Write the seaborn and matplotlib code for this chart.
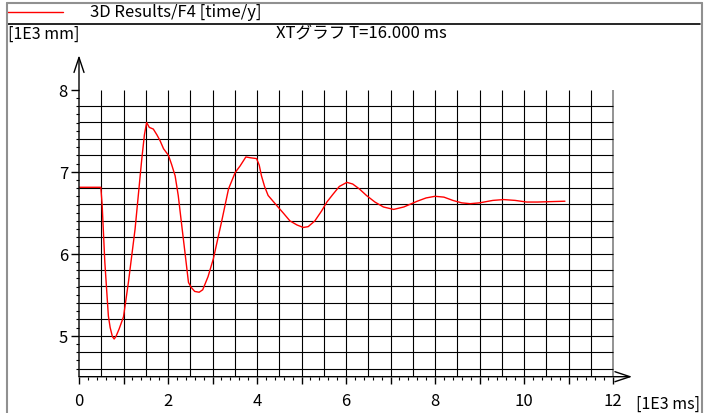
import numpy as np
import pandas as pd
import matplotlib
matplotlib.use("Agg")
import matplotlib.pyplot as plt
from matplotlib.lines import Line2D
from matplotlib.ticker import FixedLocator
import seaborn as sns

# ---- data ----
time_ks = [0, 0.49, 0.52, 0.58, 0.66, 0.70, 0.75, 0.79, 0.83, 0.90, 1.0, 1.11, 1.26, 1.41,
           1.47, 1.52, 1.58, 1.67, 1.75, 1.82, 1.90, 2.01, 2.08, 2.16, 2.23, 2.31, 2.38,
           2.46, 2.52, 2.60, 2.70, 2.78, 2.90, 3.02, 3.20, 3.36, 3.51, 3.62, 3.75, 3.85,
           3.99, 4.05, 4.10, 4.17, 4.25, 4.44, 4.60, 4.74, 4.90, 5.04, 5.15, 5.30, 5.45,
           5.57, 5.70, 5.85, 6.02, 6.15, 6.30, 6.46, 6.65, 6.84, 7.07, 7.30, 7.60, 7.80,
           8.00, 8.20, 8.40, 8.60, 8.79, 9.00, 9.30, 9.54, 9.80, 10.06, 10.30, 10.60, 10.92]
disp_k = [6.81, 6.81, 6.60, 5.90, 5.24, 5.10, 4.99, 4.96, 4.99, 5.08, 5.23, 5.65, 6.30, 7.15,
          7.45, 7.60, 7.54, 7.52, 7.45, 7.38, 7.28, 7.20, 7.09, 6.95, 6.71, 6.34, 6.02,
          5.65, 5.59, 5.54, 5.53, 5.56, 5.72, 5.94, 6.38, 6.79, 6.99, 7.07, 7.18, 7.17,
          7.16, 7.08, 6.95, 6.82, 6.71, 6.59, 6.49, 6.40, 6.35, 6.32, 6.33, 6.40, 6.52,
          6.63, 6.72, 6.82, 6.87, 6.85, 6.79, 6.71, 6.63, 6.57, 6.54, 6.57, 6.64, 6.68,
          6.70, 6.69, 6.65, 6.62, 6.61, 6.62, 6.65, 6.66, 6.65, 6.63, 6.63, 6.635, 6.64]
x_tick_vals = [0, 2, 4, 6, 8, 10, 12]
y_tick_vals = [5, 6, 7, 8]
legend_label = "3D Results/F4 [time/y]"
title_text = "XTグラフ T=16.000 ms"
y_unit = "[1E3 mm]"
x_unit = "[1E3 ms]"

df = pd.DataFrame({"t": time_ks, "y": disp_k})

sns.set_theme(style="white")
plt.rcParams["font.family"] = ["Noto Sans CJK JP", "DejaVu Sans"]

W, H = 708, 414
fig = plt.figure(figsize=(W / 100, H / 100), dpi=100)
fig.patch.set_facecolor("white")

def fx(px):
    return px / W

def fy(py):
    return 1 - py / H

# axes geometry: x 0 -> px79, 44.5 px/unit ; y 8 -> py90.7, 82 px/unit
xmin, xmax = 0.0, 12.5
ymin, ymax = 4.5, 8.45
left = 79
right = 79 + (xmax - xmin) * 44.5
top = 90.7 - (ymax - 8) * 82
bottom = 90.7 + (8 - ymin) * 82
ax = fig.add_axes([fx(left), fy(bottom), (right - left) / W, (bottom - top) / H])
ax.set_xlim(xmin, xmax)
ax.set_ylim(ymin, ymax)
ax.set_facecolor("white")
for s in ax.spines.values():
    s.set_visible(False)

# grid
gl = 0.8
ax.vlines(np.arange(0.5, 12.0, 0.5), 4.5, 8.0, colors="black", lw=gl, zorder=1)
ax.vlines([12.0], 4.5, 8.0, colors="#808080", lw=1.2, zorder=1)
ax.hlines(np.arange(4.6, 7.81, 0.2), 0, 12, colors="black", lw=gl, zorder=1)

# curve
sns.lineplot(data=df, x="t", y="y", ax=ax, color="red", lw=1.0, sort=False, zorder=3)
ax.set_xlabel("")
ax.set_ylabel("")

# axis arrows
ax.annotate("", xy=(0, 8.42), xytext=(0, 4.5),
            arrowprops=dict(arrowstyle="->,head_length=0.9,head_width=0.3", lw=1.0, color="black",
                            shrinkA=0, shrinkB=0), annotation_clip=False)
ax.annotate("", xy=(12.43, 4.5), xytext=(0, 4.5),
            arrowprops=dict(arrowstyle="->,head_length=0.9,head_width=0.3", lw=1.0, color="black",
                            shrinkA=0, shrinkB=0), annotation_clip=False)

# ticks
ax.set_xticks(list(range(0, 13)))
ax.set_xticklabels([str(v) if v in x_tick_vals else "" for v in range(0, 13)])
ax.xaxis.set_minor_locator(FixedLocator(np.arange(0, 12.01, 0.2)))
ax.set_yticks(y_tick_vals)
ax.set_yticklabels([str(v) for v in y_tick_vals])
ax.yaxis.set_minor_locator(FixedLocator(np.arange(4.6, 8.01, 0.1)))
ax.tick_params(axis="x", which="major", direction="out", length=5, width=1, color="black",
               pad=6, labelsize=12, labelcolor="black", bottom=True)
ax.tick_params(axis="x", which="minor", direction="out", length=2.2, width=0.8, color="black",
               bottom=True)
ax.tick_params(axis="y", which="major", direction="out", length=6, width=1, color="black",
               pad=2, labelsize=12, labelcolor="black", left=True)
ax.tick_params(axis="y", which="minor", direction="out", length=2, width=0.8, color="black",
               left=True)

# unit labels and title
fig.text(fx(636), fy(404), x_unit, ha="left", va="center", fontsize=11.5, color="black")
fig.text(fx(8), fy(34), y_unit, ha="left", va="center", fontsize=11.5, color="black")
fig.text(fx(361), fy(34), title_text, ha="center", va="center", fontsize=12, color="black")

# legend header
fig.add_artist(Line2D([fx(7), fx(63)], [fy(12.7), fy(12.7)], color="red", lw=1.0))
fig.text(fx(90), fy(12.7), legend_label, ha="left", va="center", fontsize=12, color="black")
fig.add_artist(Line2D([fx(7), fx(700)], [fy(25), fy(25)], color="black", lw=1.2))

# outer frame
fc = "#909090"
fig.add_artist(Line2D([fx(702), fx(702)], [fy(3.5), fy(420)], color=fc, lw=1.5))
fig.add_artist(Line2D([fx(7), fx(702)], [fy(3.5), fy(3.5)], color=fc, lw=1.5))
fig.add_artist(Line2D([fx(7), fx(7)], [fy(3.5), fy(420)], color=fc, lw=1.5))

fig.savefig("out.png", dpi=100, facecolor="white")
